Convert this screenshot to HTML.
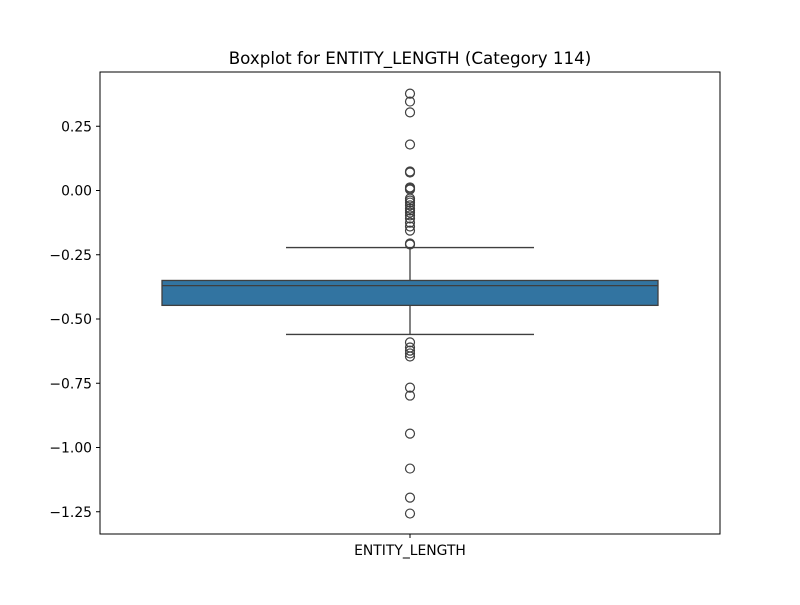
<!DOCTYPE html>
<html><head><meta charset="utf-8"><style>
body{margin:0;background:#fff}
svg text{font-family:"DejaVu Sans","Liberation Sans",sans-serif;fill:#000}
</style></head><body>
<svg id="chart" width="800" height="600">
<rect width="800" height="600" fill="#fff"/>
<text x="410" y="64" text-anchor="middle" font-size="16.7">Boxplot for ENTITY_LENGTH (Category 114)</text>
<g id="yaxis"></g>
<g id="plot"></g>
<rect x="100" y="72" width="620" height="462" fill="none" stroke="#000" stroke-width="1"/>
<line x1="410" x2="410" y1="534" y2="538" stroke="#000"/>
<text x="410" y="555" text-anchor="middle" font-size="13.9">ENTITY_LENGTH</text>
</svg>
<script>
const yTicks=[0.25,0,-0.25,-0.5,-0.75,-1.0,-1.25];
const yTickLabels=["0.25","0.00","\u22120.25","\u22120.50","\u22120.75","\u22121.00","\u22121.25"];
const boxStats=[-0.560,-0.447,-0.370,-0.350,-0.222]; // whiskerLow, q1, median, q3, whiskerHigh
const outliers=[0.377,0.346,0.304,0.179,0.074,0.070,0.012,0.008,0.004,-0.031,-0.039,-0.047,-0.058,-0.070,-0.078,-0.086,-0.097,-0.109,-0.125,-0.140,-0.156,-0.206,-0.210,-0.591,-0.611,-0.623,-0.634,-0.646,-0.767,-0.798,-0.946,-1.082,-1.195,-1.257];
const NS="http://www.w3.org/2000/svg";
function y(v){return 190.5-v*257;}
const cx=410;
function mk(tag,attrs,parent){const e=document.createElementNS(NS,tag);for(const k in attrs)e.setAttribute(k,attrs[k]);parent.appendChild(e);return e;}
const ya=document.getElementById('yaxis'),pl=document.getElementById('plot');
yTicks.forEach((t,i)=>{
 const l=mk('line',{x1:96,x2:100,y1:y(t),y2:y(t),stroke:'#000'},ya);
 
 
 const tx=mk('text',{x:92,y:y(t)+5,'text-anchor':'end','font-size':13.9},ya);
 tx.textContent=yTickLabels[i];
 
 
});
const [wl,q1,med,q3,wh]=boxStats;
const s='#3f3f3f';
let e;
e=mk('line',{x1:cx,x2:cx,y1:y(q3),y2:y(wh),stroke:s,'stroke-width':1.3},pl);


e=mk('line',{x1:cx,x2:cx,y1:y(q1),y2:y(wl),stroke:s,'stroke-width':1.3},pl);


e=mk('line',{x1:286,x2:534,y1:y(wh),y2:y(wh),stroke:s,'stroke-width':1.3},pl);


e=mk('line',{x1:286,x2:534,y1:y(wl),y2:y(wl),stroke:s,'stroke-width':1.3},pl);


e=mk('rect',{x:162,width:496,y:y(q3),height:y(q1)-y(q3),fill:'#3274a1',stroke:s,'stroke-width':1.3},pl);


e=mk('line',{x1:162,x2:658,y1:y(med),y2:y(med),stroke:s,'stroke-width':1.3},pl);


outliers.forEach(v=>{
 const c=mk('circle',{cx:cx,cy:y(v),r:4.5,fill:'none',stroke:s,'stroke-width':1.2},pl);
 
 
});
</script>
</body></html>
